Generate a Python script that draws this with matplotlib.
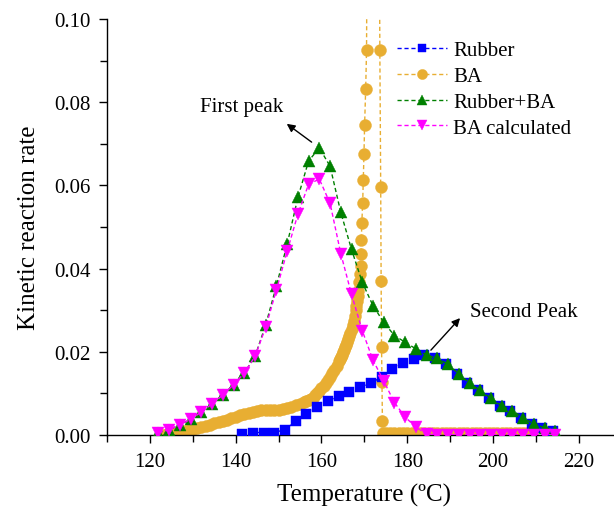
import matplotlib
matplotlib.use("Agg")
import matplotlib.pyplot as plt
from matplotlib.ticker import MultipleLocator, FormatStrFormatter

plt.rcParams['font.family'] = ['Liberation Serif', 'DejaVu Serif']

# ---------------- data ----------------
rubber_T = [141.5, 144, 146.5, 149, 151.5, 154, 156.5, 159, 161.5, 164, 166.5, 169,
            171.5, 174, 176.5, 179, 181.5, 184, 186.5, 189, 191.5, 194, 196.5, 199,
            201.5, 204, 206.5, 209, 211.5, 214]
rubber_v = [0.0002, 0.0006, 0.0006, 0.0006, 0.0013, 0.0033, 0.0050, 0.0068, 0.0082, 0.0093,
            0.0103, 0.0116, 0.0124, 0.0140, 0.0159, 0.0172, 0.0183, 0.0192, 0.0185, 0.0171,
            0.0147, 0.0125, 0.0107, 0.0088, 0.0070, 0.0058, 0.0042, 0.0026, 0.0018, 0.0010]

ba_T = [123, 124, 125, 126, 127, 128, 129, 130, 131, 132, 133, 134, 135, 136, 137, 138,
        139, 140, 141, 142, 143, 144, 145, 146, 147, 148, 149, 150, 151, 152, 153, 154,
        155, 156, 156.5, 157, 157.5, 158, 158.5, 159, 159.5, 160, 160.5, 161, 161.5, 162,
        162.5, 163, 163.5, 164, 164.25, 164.5, 164.75, 165, 165.25, 165.5, 165.75, 166,
        166.25, 166.5, 166.75, 167, 167.25, 167.5, 167.75, 168, 168.15, 168.3, 168.4, 168.5,
        168.8, 169.0, 169.1, 169.2, 169.3, 169.4, 169.6,
        169.75, 169.9, 170.05, 170.3, 170.5, 170.7, 171.5, 172.5, 173.4, 173.6, 173.8,
        173.9, 174.0, 174.1, 174.2, 174.4, 175, 176, 177, 178, 179, 180, 181, 182, 183,
        184, 185, 186, 187, 188, 189, 190, 191, 192, 193, 194, 195, 196, 197, 198, 199,
        200, 201, 202, 203, 204, 205, 206, 207, 208, 209]
ba_v = [0.0001, 0.0002, 0.0004, 0.0006, 0.0008, 0.0010, 0.0012, 0.0014, 0.0016, 0.0019,
        0.0022, 0.0025, 0.0028, 0.0031, 0.0034, 0.0037, 0.0040, 0.0043, 0.0047, 0.0050,
        0.0053, 0.0056, 0.0058, 0.0059, 0.0059, 0.0059, 0.0060, 0.0061, 0.0063, 0.0065,
        0.0068, 0.0071, 0.0075, 0.0079, 0.0081, 0.0084, 0.0087, 0.0090, 0.0095, 0.0100,
        0.0106, 0.0112, 0.0118, 0.0124, 0.0132, 0.0140, 0.0148, 0.0157, 0.0167, 0.0177,
        0.0182, 0.0188, 0.0193, 0.0199, 0.0205, 0.0211, 0.0217, 0.0224, 0.0231, 0.0238,
        0.0246, 0.0255, 0.0265, 0.0275, 0.0287, 0.0300, 0.0310, 0.0322, 0.0333, 0.0345,
        0.0368, 0.0387, 0.0407, 0.0434, 0.0469, 0.0510, 0.0558, 0.0613,
        0.0675, 0.0746, 0.0832, 0.0925, 0.1400, 0.1600, 0.1600, 0.1400, 0.0925, 0.0595,
        0.0369, 0.0212, 0.0127, 0.0033, 0.0005, 0.0005, 0.0005, 0.0005, 0.0005, 0.0005,
        0.0005, 0.0005, 0.0005, 0.0005, 0.0005, 0.0005, 0.0005, 0.0005, 0.0005, 0.0005,
        0.0005, 0.0005, 0.0005, 0.0005, 0.0005, 0.0005, 0.0005, 0.0005, 0.0005, 0.0005,
        0.0005, 0.0005, 0.0005, 0.0005, 0.0005, 0.0005, 0.0005, 0.0005, 0.0005, 0.0005]

mix_T = [122, 124.5, 127, 129.5, 132, 134.5, 137, 139.5, 142, 144.5, 147, 149.5, 152,
         154.5, 157, 159.5, 162, 164.5, 167, 169.5, 172, 174.5, 177, 179.5, 182, 184.5,
         187, 189.5, 192, 194.5, 197, 199.5, 202, 204.5, 207, 209.5, 212, 214.5]
mix_v = [0.0006, 0.0013, 0.0024, 0.0038, 0.0055, 0.0075, 0.0096, 0.0121, 0.0149, 0.0189,
         0.0265, 0.0359, 0.0459, 0.0571, 0.0659, 0.0690, 0.0646, 0.0535, 0.0446, 0.0367,
         0.0311, 0.0271, 0.0239, 0.0223, 0.0207, 0.0192, 0.0184, 0.0170, 0.0147, 0.0125,
         0.0107, 0.0088, 0.0070, 0.0058, 0.0042, 0.0026, 0.0018, 0.0010]

calc_T = mix_T
calc_v = [0.0006, 0.0013, 0.0024, 0.0038, 0.0055, 0.0075, 0.0096, 0.0121, 0.0149, 0.0189,
          0.0259, 0.0349, 0.0442, 0.0531, 0.0603, 0.0615, 0.0557, 0.0436, 0.0338, 0.0251,
          0.0180, 0.0130, 0.0078, 0.0043, 0.0019, 0.0002, 0.0001, 0.0001, 0.0001, 0.0001,
          0.0001, 0.0001, 0.0001, 0.0001, 0.0001, 0.0001, 0.0001, 0.0001]

labels = ['Rubber', 'BA', 'Rubber+BA', 'BA calculated']
colors = ['#0000FF', '#E8AE32', '#008000', '#FF00FF']

# ---------------- figure ----------------
fig = plt.figure(figsize=(6.14, 5.10), dpi=100)
ax = fig.add_axes([107/614, 74/510, 514.8/614, 416/510])

dash = (0, (3, 2))
l1, = ax.plot(rubber_T, rubber_v, linestyle=dash, lw=1.0, color=colors[0], marker='s',
              ms=7.2, mec=colors[0], mew=0.3, zorder=3, label=labels[0])
l2, = ax.plot(ba_T, ba_v, linestyle=dash, lw=1.0, color=colors[1], marker='o',
              ms=8.6, mec=colors[1], mew=0.3, zorder=2, label=labels[1])
l3, = ax.plot(mix_T, mix_v, linestyle=dash, lw=1.0, color=colors[2], marker='^',
              ms=8.5, mec=colors[2], mew=0.3, zorder=4, label=labels[2])
l4, = ax.plot(calc_T, calc_v, linestyle=dash, lw=1.0, color=colors[3], marker='v',
              ms=8.5, mec=colors[3], mew=0.3, zorder=5, label=labels[3])

ax.set_xlim(110, 230)
ax.set_ylim(0, 0.10)
ax.xaxis.set_major_locator(MultipleLocator(20))
ax.xaxis.set_minor_locator(MultipleLocator(10))
ax.yaxis.set_major_locator(MultipleLocator(0.02))
ax.yaxis.set_minor_locator(MultipleLocator(0.01))
ax.yaxis.set_major_formatter(FormatStrFormatter('%.2f'))

for s in ['top', 'right']:
    ax.spines[s].set_visible(False)
for s in ['left', 'bottom']:
    ax.spines[s].set_linewidth(1.0)

ax.tick_params(axis='both', which='major', direction='out', length=6, width=1.0,
               labelsize=15, pad=6)
ax.tick_params(axis='both', which='minor', direction='out', length=5, width=1.0)

ax.set_xlabel('Temperature (ºC)', fontsize=18, labelpad=9)
ax.set_ylabel('Kinetic reaction rate', fontsize=18, labelpad=10)

leg = ax.legend(handles=[l1, l2, l3, l4], loc='upper left',
                bbox_to_anchor=(0.563, 0.948), frameon=False, fontsize=15,
                handlelength=2.4, handletextpad=0.3, labelspacing=0.3,
                borderpad=0, borderaxespad=0, markerscale=0.85)

ax.annotate('', xy=(151.9, 0.0748), xytext=(157.7, 0.0704),
            arrowprops=dict(arrowstyle='-|>', color='black', lw=1.0, mutation_scale=12,
                            shrinkA=0, shrinkB=0))
ax.text(131.7, 0.0779, 'First peak', fontsize=15, ha='left', va='baseline')

ax.annotate('', xy=(192.3, 0.0281), xytext=(185.5, 0.0204),
            arrowprops=dict(arrowstyle='-|>', color='black', lw=1.0, mutation_scale=12,
                            shrinkA=0, shrinkB=0))
ax.text(194.6, 0.0286, 'Second Peak', fontsize=15, ha='left', va='baseline')

fig.savefig('out.png', dpi=100)
